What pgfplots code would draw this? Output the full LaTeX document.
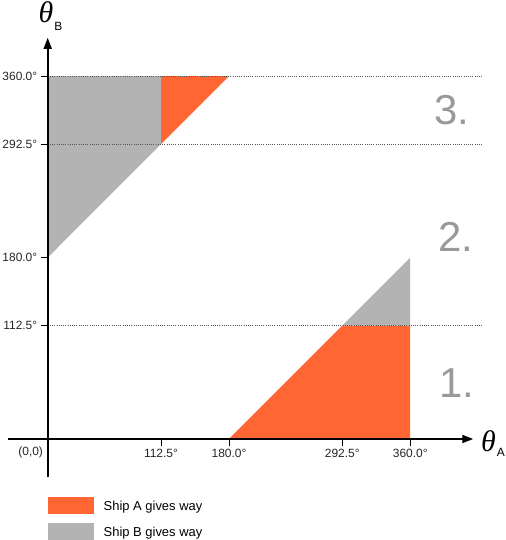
\documentclass[border=0pt]{standalone}
\usepackage{pgfplots}
\pgfplotsset{compat=1.18}
\usepackage{fontspec}
\setmainfont{Liberation Sans}
\newfontfamily\serifgreek{Liberation Serif}
\usetikzlibrary{arrows.meta}
\definecolor{shipA}{HTML}{FF6633}
\definecolor{shipB}{HTML}{B3B3B3}
\definecolor{numgray}{HTML}{999999}
\definecolor{dotgray}{HTML}{555555}

\begin{document}
\begin{tikzpicture}
\begin{axis}[
  x=1.007bp, y=1.008bp,
  xmin=-39.4, xmax=422.6, ymin=-38, ymax=398,
  axis lines=middle,
  axis on top,
  clip=false,
  axis line style={line width=1.6bp, black, -{Triangle[length=11bp,width=8bp]}},
  xtick={112.5,180,292.5,360},
  xticklabels={112.5°,180.0°,292.5°,360.0°},
  ytick={112.5,180,292.5,360},
  yticklabels={112.5°,180.0°,292.5°,360.0°},
  tick align=outside,
  major tick length=7bp,
  tick style={black, line width=0.8bp},
  tick label style={font=\fontsize{12}{14}\selectfont, text=black!85},
  legend style={
    at={(axis cs:0,-57.5)}, anchor=north west,
    draw=none, fill=none, inner sep=0pt, outer sep=0pt,
    font=\fontsize{13}{15}\selectfont,
    row sep=9bp, column sep=10bp,
    nodes={inner sep=0pt, text depth=0pt},
    cells={anchor=west},
  },
  legend image code/.code={\fill[#1] (0bp,-8.5bp) rectangle (46bp,8.5bp);},
]
% lower region
\addplot[fill=shipA, draw=none] coordinates {(180,0) (360,0) (360,112.5) (292.5,112.5)} -- cycle;
\addlegendentry{Ship A gives way}
\addplot[fill=shipB, draw=none] coordinates {(292.5,112.5) (360,112.5) (360,180)} -- cycle;
\addlegendentry{Ship B gives way}
% upper region
\addplot[fill=shipA, draw=none, forget plot] coordinates {(112.5,292.5) (112.5,360) (180,360)} -- cycle;
\addplot[fill=shipB, draw=none, forget plot] coordinates {(0,180) (0,360) (112.5,360) (112.5,292.5)} -- cycle;
% dotted guide lines
\addplot[draw=dotgray, line width=0.8bp, dash pattern=on 1bp off 1.2bp, forget plot] coordinates {(0,360) (432,360)};
\addplot[draw=dotgray, line width=0.8bp, dash pattern=on 1bp off 1.2bp, forget plot] coordinates {(0,292.5) (432,292.5)};
\addplot[draw=dotgray, line width=0.8bp, dash pattern=on 1bp off 1.2bp, forget plot] coordinates {(0,112.5) (432,112.5)};

\node[text=numgray, font=\fontsize{42}{42}\selectfont] at (axis cs:401.5,326) {3.};
\node[text=numgray, font=\fontsize{42}{42}\selectfont] at (axis cs:405,201) {2.};
\node[text=numgray, font=\fontsize{42}{42}\selectfont] at (axis cs:406,55.6) {1.};

\node[anchor=north east, inner sep=0pt, font=\fontsize{12}{14}\selectfont, text=black!85] at (axis cs:-4.5,-8) {(0,0)};

\node[inner sep=0pt, font=\serifgreek\itshape\fontsize{30}{30}\selectfont] at (axis cs:-1.7,423) {θ};
\node[inner sep=0pt, font=\fontsize{12}{14}\selectfont] at (axis cs:10.7,409.7) {B};
\node[inner sep=0pt, font=\serifgreek\itshape\fontsize{30}{30}\selectfont] at (axis cs:437.8,-2.5) {θ};
\node[inner sep=0pt, font=\fontsize{12}{14}\selectfont] at (axis cs:450,-12.9) {A};

\coordinate (O) at (axis cs:0,0);
\end{axis}
\pgfresetboundingbox
\path[use as bounding box] ([shift={(-47.7bp,-101bp)}]O) rectangle ([shift={(458.3bp,439bp)}]O);
\end{tikzpicture}
\end{document}
